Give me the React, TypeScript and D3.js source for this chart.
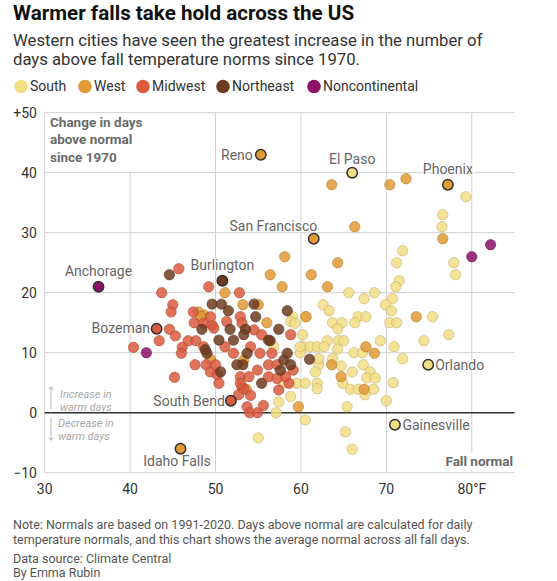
import React from 'react';
import * as d3 from 'd3';

// ---------- data ----------
const REGIONS = ['South', 'West', 'Midwest', 'Northeast', 'Noncontinental'];
const REGION_COLORS = ['#f2de85', '#e19a36', '#d95a3f', '#6e3b20', '#8c1168'];

// [average fall normal temp (°F), change in days above normal since 1970]
const SOUTH: [number, number][] = [
  [79.3, 36], [76.6, 33], [76.5, 31], [71.9, 27], [71.2, 25], [77.9, 25], [78.1, 23], [71.5, 22],
  [71.1, 21], [70.7, 19], [69.9, 18], [70.6, 17], [70.4, 15], [71.2, 15], [75.4, 16], [77.3, 13],
  [74.4, 12], [69.3, 12], [70.9, 11], [71.9, 9], [70.8, 5], [70.0, 2],
  [65.6, 20], [67.4, 19], [68.6, 20], [62.6, 18], [63.3, 17], [66.7, 16], [67.6, 16], [66.3, 15],
  [63.7, 15], [64.8, 15], [64.3, 14], [64.4, 12], [65.0, 12], [63.1, 12], [60.2, 13], [60.3, 11],
  [61.1, 11], [61.9, 11], [62.7, 11], [59.9, 10], [63.7, 9], [64.7, 7.8], [66.0, 6.8], [67.3, 8],
  [68.1, 6.8], [62.1, 8], [61.7, 6.8], [61.9, 4.9], [61.9, 4], [64.9, 4.9], [65.8, 3.9], [66.7, 3.9],
  [67.5, 3], [68.5, 3.9], [67.7, 5.8], [68.7, 5.8], [66.2, 10], [67.2, 10], [64.3, 10.6], [65.4, 1],
  [65.2, -3.2], [66.0, -6.1], [62.1, 9],
  [59.0, 16], [58.8, 15.2], [59.3, 14.9], [60.5, 16], [56.8, 11], [59.9, 11], [58.0, 5], [59.5, 4.9],
  [58.8, 2.7], [57.4, 1.8], [57.1, 0], [60.5, 4.9], [60.5, -1.2], [55.0, -4.2],
];

const WEST: [number, number][] = [
  [63.6, 38], [70.4, 38], [72.3, 39], [66.3, 31], [76.6, 29], [58.1, 26], [64.3, 25], [61.2, 23],
  [56.4, 23], [57.8, 21], [63.1, 21], [51.1, 20], [73.5, 16], [60.6, 16], [53.2, 18], [55.0, 18],
  [48.6, 16.3], [48.0, 16.8], [48.3, 16], [56.0, 15], [49.4, 8.9], [67.6, 11], [68.6, 9.9], [63.6, 8],
  [64.7, 6], [67.4, 3.9], [59.7, 1], [53.3, 8.8], [53.6, 3.9],
];

const MIDWEST: [number, number][] = [
  [45.7, 24], [49.2, 21], [43.7, 20], [45.0, 18], [44.8, 16.8], [47.4, 16.8], [47.5, 15], [48.6, 14.9],
  [49.6, 14.6], [44.6, 13.9], [45.3, 12.8], [43.4, 12], [46.8, 12], [47.7, 12], [46.1, 10.9], [40.4, 10.9],
  [46.0, 9.9], [47.6, 8], [48.9, 8], [49.4, 6.8], [50.2, 6.3], [45.2, 5.9],
  [52.8, 20], [49.4, 16], [52.9, 16], [51.3, 15.2], [49.8, 14.1], [53.1, 14.9], [54.5, 13.8], [55.4, 13],
  [51.1, 11], [54.1, 11], [58.8, 13], [52.1, 9.9], [55.2, 9.9], [56.6, 9.9], [50.0, 8], [56.2, 8],
  [54.9, 7.1], [52.9, 6], [53.9, 6], [56.2, 6], [57.2, 5.7], [53.1, 4.3], [54.1, 2.9], [55.6, 1.2],
  [57.4, 3.8], [53.7, 1], [54.0, 0], [54.9, 0], [52.7, 3], [53.3, 4], [52.9, 4.9], [50.4, 4.9],
  [58.6, 4.9], [59.1, 7.1], [48.6, 11], [58.2, 6], [57.2, 8],
];

const NORTHEAST: [number, number][] = [
  [44.6, 23], [49.6, 18.1], [50.7, 18.1], [54.5, 18.1], [58.4, 17], [51.5, 17], [54.7, 16], [51.7, 13.9],
  [53.5, 13.9], [57.4, 13.9], [48.4, 13.9], [50.4, 12.1], [52.1, 12.1], [53.3, 13], [56.2, 12.1], [48.8, 10.5],
  [53.7, 9.9], [58.0, 8.8], [52.5, 8], [53.2, 8], [57.6, 7.1], [58.8, 8], [50.6, 6.8], [55.4, 4.9],
  [49.0, 9.9], [58.4, 9.9], [61.0, 8.9], [56.4, 12],
];

const NONCONTINENTAL: [number, number][] = [[41.9, 10], [80.0, 26], [82.2, 28]];

const LABELED_NAMES = ['Reno', 'El Paso', 'Phoenix', 'San Francisco', 'Anchorage', 'Burlington', 'Bozeman', 'South Bend', 'Idaho Falls', 'Orlando', 'Gainesville'];
const LABELED_REGIONS = ['West', 'South', 'West', 'West', 'Noncontinental', 'Northeast', 'Midwest', 'Midwest', 'West', 'South', 'South'];
const LABELED_TEMP = [55.3, 66.0, 77.2, 61.5, 36.3, 50.8, 43.1, 51.8, 45.9, 74.9, 71.0];
const LABELED_CHANGE = [43, 40, 38, 29, 21, 22, 14, 2, -6, 8, -2];

const X_TICKS = [30, 40, 50, 60, 70, 80];
const Y_TICKS = [-10, 0, 10, 20, 30, 40, 50];

// ---------- layout ----------
const W = 557;
const H = 581;
const FONT = 'Roboto, "Noto Sans", sans-serif';
const LABEL_PLACEMENT: Record<string, { dx: number; dy: number; anchor: string }> = {
  Reno: { dx: -8, dy: 5, anchor: 'end' },
  'El Paso': { dx: 0, dy: -9, anchor: 'middle' },
  Phoenix: { dx: 0, dy: -11, anchor: 'middle' },
  'San Francisco': { dx: 3.5, dy: -7.5, anchor: 'end' },
  Anchorage: { dx: 0, dy: -10.5, anchor: 'middle' },
  Burlington: { dx: 0, dy: -11, anchor: 'middle' },
  Bozeman: { dx: -6.5, dy: 4, anchor: 'end' },
  'South Bend': { dx: -6, dy: 5, anchor: 'end' },
  'Idaho Falls': { dx: -3.5, dy: 17, anchor: 'middle' },
  Orlando: { dx: 7, dy: 5, anchor: 'start' },
  Gainesville: { dx: 7.5, dy: 5, anchor: 'start' },
};
const LEGEND_X = [21, 85, 143, 223, 314];

export default function App() {
  const x = d3.scaleLinear().domain([30, 85]).range([44.7, 514.5]);
  const y = d3.scaleLinear().domain([-10, 50]).range([472.7, 112.7]);
  const color = d3.scaleOrdinal<string, string>().domain(REGIONS).range(REGION_COLORS);

  const groups: [string, [number, number][]][] = [
    ['South', SOUTH],
    ['West', WEST],
    ['Midwest', MIDWEST],
    ['Northeast', NORTHEAST],
    ['Noncontinental', NONCONTINENTAL],
  ];

  const [x0, x1] = x.range();

  return (
    <svg width={W} height={H} style={{ position: 'absolute', left: 0, top: 0, background: '#fff' }} fontFamily={FONT}>
      <rect width={W} height={H} fill="#fff" />
      {/* titles */}
      <text x={13} y={20} fontSize={20.6} fontWeight={700} fill="#111">Warmer falls take hold across the US</text>
      <text x={13} y={46.3} fontSize={16.7} fill="#333">Western cities have seen the greatest increase in the number of</text>
      <text x={13} y={65.3} fontSize={16.7} fill="#333">days above fall temperature norms since 1970.</text>

      {/* legend */}
      {REGIONS.map((r, i) => (
        <g key={r}>
          <circle cx={LEGEND_X[i]} cy={86.5} r={6.8} fill={color(r)} />
          <text x={LEGEND_X[i] + 9} y={86.5} dy="0.35em" fontSize={14} fill="#333">{r}</text>
        </g>
      ))}

      {/* grid */}
      {Y_TICKS.map((t) => (
        <line key={'gy' + t} x1={x0} x2={x1} y1={y(t)} y2={y(t)} stroke="#d0d0d0" strokeWidth={1} />
      ))}
      {X_TICKS.map((t) => (
        <line key={'gx' + t} x1={x(t)} x2={x(t)} y1={y(50)} y2={y(-10)} stroke="#d0d0d0" strokeWidth={1} />
      ))}

      {/* axis labels */}
      {Y_TICKS.map((t) => (
        <text key={'ty' + t} x={37} y={y(t)} dy="0.35em" textAnchor="end" fontSize={14} fill="#333">
          {t === 50 ? '+50' : t < 0 ? '\u2212' + Math.abs(t) : String(t)}
        </text>
      ))}
      {X_TICKS.map((t) => (
        <text key={'tx' + t} x={x(t)} y={494} textAnchor="middle" fontSize={14} fill="#333">
          {t === 80 ? '80°F' : String(t)}
        </text>
      ))}

      {/* annotation box */}
      <rect x={x0 + 0.5} y={y(50) + 0.8} width={108} height={y(40) - y(50) - 1.6} fill="#fff" />
      <text fontSize={13.5} fontWeight={700} fill="#6a6a6a">
        <tspan x={50} y={127.3}>Change in days</tspan>
        <tspan x={50} y={144.3}>above normal</tspan>
        <tspan x={50} y={161.5}>since 1970</tspan>
      </text>
      <rect x={440} y={453} width={74} height={17} fill="#fff" />
      <text x={513} y={466} textAnchor="end" fontSize={13.5} fontWeight={700} fill="#6a6a6a">Fall normal</text>

      {/* increase/decrease hint */}
      <g stroke="#b0b0b0" strokeWidth={0.9} fill="none">
        <line x1={51} x2={51} y1={409} y2={387} />
        <path d="M48.8,389.5 L51,386.5 L53.2,389.5" />
        <line x1={51} x2={51} y1={417} y2={440} />
        <path d="M48.8,437.5 L51,440.5 L53.2,437.5" />
      </g>
      <text fontSize={11} fontStyle="italic" fill="#a8a8a8">
        <tspan x={60} y={397.5}>Increase in</tspan>
        <tspan x={60} y={410.5}>warm days</tspan>
        <tspan x={58} y={426.5}>Decrease in</tspan>
        <tspan x={58} y={439.5}>warm days</tspan>
      </text>

      {/* zero line */}
      <line x1={x0} x2={x1} y1={y(0)} y2={y(0)} stroke="#333" strokeWidth={1.6} />

      {/* points */}
      {groups.map(([r, pts]) => {
        const c = color(r);
        const s = d3.color(c)!.darker(0.7).formatHex();
        return (
          <g key={r}>
            {pts.map((p, i) => (
              <circle key={i} cx={x(p[0])} cy={y(p[1])} r={5.2} fill={c} fillOpacity={0.85} stroke={s} strokeOpacity={0.7} strokeWidth={0.8} />
            ))}
          </g>
        );
      })}

      {/* labeled cities */}
      {LABELED_NAMES.map((n, i) => {
        const cx = x(LABELED_TEMP[i]);
        const cy = y(LABELED_CHANGE[i]);
        const p = LABEL_PLACEMENT[n];
        return (
          <g key={n}>
            <text x={cx + p.dx} y={cy + p.dy} textAnchor={p.anchor as any} fontSize={14} fill="#666"
              stroke="#fff" strokeWidth={2.5} paintOrder="stroke" strokeLinejoin="round">{n}</text>
            <circle cx={cx} cy={cy} r={5.2} fill={color(LABELED_REGIONS[i])} stroke="#333" strokeWidth={1.5} />
          </g>
        );
      })}

      {/* notes */}
      <text fontSize={12.5} fill="#555">
        <tspan x={13} y={529}>Note: Normals are based on 1991-2020. Days above normal are calculated for daily</tspan>
        <tspan x={13} y={544}>temperature normals, and this chart shows the average normal across all fall days.</tspan>
        <tspan x={13} y={562.5}>Data source: Climate Central</tspan>
        <tspan x={13} y={577}>By Emma Rubin</tspan>
      </text>
    </svg>
  );
}
